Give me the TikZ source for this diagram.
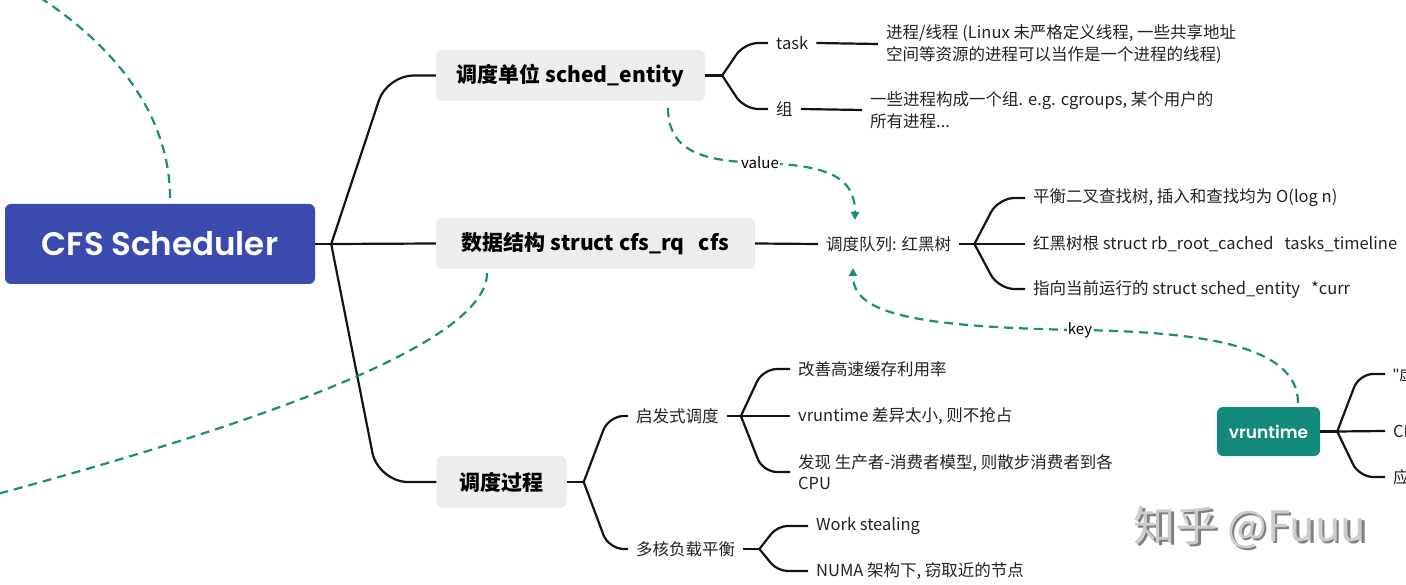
\documentclass[tikz,border=0pt]{standalone}
\usepackage{fontspec}
\setmainfont{Noto Sans CJK SC}
\newfontfamily\popp{Poppins SemiBold}
\newfontfamily\lsans{Liberation Sans}
\usetikzlibrary{arrows.meta,calc}
\definecolor{rootblue}{HTML}{3A4AAE}
\definecolor{tealbox}{HTML}{12897A}
\definecolor{dashc}{HTML}{1C8C7C}
\definecolor{boxgray}{HTML}{EDEDED}
\definecolor{txt}{HTML}{222222}
\newcommand\brc[4]{%
  \path (#1) ++(#3,0) coordinate (tmpc);
  \draw[br,rounded corners=#4] (#1) -- (tmpc |- #2) -- (#2);}
\begin{document}
\begin{tikzpicture}[x=1pt,y=-1pt,
  br/.style={line width=2.2pt,draw=black!92},
  dsh/.style={line width=2.2pt,draw=dashc,dash pattern=on 9pt off 6pt},
  tip/.style={-{Triangle[length=8pt,width=8pt]}},
  rootbox/.style={fill=rootblue,rounded corners=6pt,text=white,font=\popp\fontsize{32.5pt}{36pt}\selectfont},
  vbox/.style={fill=tealbox,rounded corners=6pt,text=white,font=\popp\fontsize{17pt}{20pt}\selectfont},
  graybox/.style={fill=boxgray,rounded corners=6pt,text=black,font=\bfseries\fontsize{21pt}{25pt}\selectfont},
  leaf/.style={anchor=west,inner xsep=8pt,inner ysep=2pt,text=txt,align=left,font=\fontsize{16.5pt}{21.5pt}\selectfont},
  lab/.style={fill=white,inner xsep=1pt,inner ysep=1pt,text=black,font=\fontsize{15pt}{17pt}\selectfont},
  wmark/.style={font=\fontsize{42pt}{46pt}\selectfont}]
\useasboundingbox (0,0) rectangle (1406,585);
\clip (0,0) rectangle (1406,585);

% main nodes
\node[rootbox,minimum width=310pt,minimum height=80pt] (root) at (160,244) {CFS Scheduler};
\node[graybox,minimum width=269pt,minimum height=51pt] (boxA) at (570.5,75.5) {调度单位 sched\_entity};
\node[graybox,minimum width=319pt,minimum height=51pt] (boxB) at (595.5,243.5) {数据结构 struct cfs\_rq\ \ \ cfs};
\node[graybox,minimum width=130pt,minimum height=52pt] (boxC) at (501.5,482) {调度过程};
\node[vbox,minimum width=103pt,minimum height=49pt] (vrt) at (1268.5,431.5) {vruntime};

% leaves
\node[leaf] (task) at (768,43) {task};
\node[leaf] (tasktxt) at (878,44) {进程/线程 (Linux 未严格定义线程, 一些共享地址\\空间等资源的进程可以当作是一个进程的线程)};
\node[leaf] (grp) at (768,109) {组};
\node[leaf] (grptxt) at (862,110) {一些进程构成一个组. e.g. cgroups, 某个用户的\\所有进程...};
\node[leaf] (queue) at (818,244) {调度队列: 红黑树};
\node[leaf] (q1) at (1025,198) {平衡二叉查找树, 插入和查找均为 O(log n)};
\node[leaf] (q2) at (1025,244) {红黑树根 struct rb\_root\_cached\ \ \ tasks\_timeline};
\node[leaf] (q3) at (1025,289) {指向当前运行的 struct sched\_entity\ \ \ *curr};
\node[leaf] (heur) at (628,416) {启发式调度};
\node[leaf] (h1) at (790,369) {改善高速缓存利用率};
\node[leaf] (h2) at (790,416) {vruntime 差异太小, 则不抢占};
\node[leaf] (h3) at (790,472) {发现 生产者-消费者模型, 则散步消费者到各\\CPU};
\node[leaf] (multi) at (628,549) {多核负载平衡};
\node[leaf] (m1) at (808,526) {Work stealing};
\node[leaf] (m2) at (808,571) {NUMA 架构下, 窃取近的节点};
\node[leaf] (v1) at (1385,374) {{\lsans\char"22}虚};
\node[leaf] (v2) at (1385,431) {CPU};
\node[leaf] (v3) at (1385,477) {应};

% forks
\coordinate (fR) at ($(root.east)+(16,0)$);
\coordinate (fA) at ($(boxA.east)+(17,0)$);
\coordinate (fQ) at ($(queue.east)+(15,0)$);
\coordinate (fC) at ($(boxC.east)+(17,0)$);
\coordinate (fH) at ($(heur.east)+(14,0)$);
\coordinate (fM) at ($(multi.east)+(16,0)$);
\coordinate (fV) at ($(vrt.east)+(17,0)$);

% tree connectors
\draw[br] (root.east) -- (fR);
\brc{fR}{boxA.west}{56}{26pt}
\draw[br] (fR) -- (boxB.west);
\brc{fR}{boxC.west}{47}{30pt}

\draw[br] (boxA.east) -- (fA);
\brc{fA}{task.west}{22}{14pt}
\brc{fA}{grp.west}{22}{14pt}
\draw[br] (task.east) -- (tasktxt.west);
\draw[br] (grp.east) -- (grptxt.west);

\draw[br] (boxB.east) -- (queue.west);
\draw[br] (queue.east) -- (fQ);
\brc{fQ}{q1.west}{24}{16pt}
\draw[br] (fQ) -- (q2.west);
\brc{fQ}{q3.west}{24}{16pt}

\draw[br] (boxC.east) -- (fC);
\brc{fC}{heur.west}{25}{15pt}
\brc{fC}{multi.west}{25}{15pt}
\draw[br] (heur.east) -- (fH);
\brc{fH}{h1.west}{22}{14pt}
\draw[br] (fH) -- (h2.west);
\brc{fH}{h3.west}{22}{14pt}
\draw[br] (multi.east) -- (fM);
\brc{fM}{m1.west}{18}{10pt}
\brc{fM}{m2.west}{18}{10pt}

\draw[br] (vrt.east) -- (fV);
\brc{fV}{v1.west}{22}{14pt}
\draw[br] (fV) -- (v2.west);
\brc{fV}{v3.west}{22}{14pt}

% dashed relations
\coordinate (offTL) at (28,-10);
\coordinate (offBL) at (-10,496);
\draw[dsh] ($(root.north)+(10,-6)$) .. controls (170,118) and (118,45) .. (offTL);
\draw[dsh] ($(boxB.south)+(-108.5,4)$) .. controls (487,335) and (310,410) .. (offBL);
\draw[dsh,tip] ($(boxA.south)+(97.5,7)$) .. controls (668,155) and (710,161) .. (760,163)
   .. controls (830,165) and (855,178) .. ($(queue.west)+(37,-24)$);
\node[lab] (vlab) at (760,163) {value};
\draw[dsh,tip] ($(vrt.north)+(29.5,-4)$) .. controls (1298,345) and (1200,332) .. (1080,330)
   .. controls (900,327) and (853,310) .. ($(queue.west)+(35,24)$);
\node[lab] (klab) at (1080,330) {key};

% watermark
\node[wmark,text=black!50] (wmsh) at (1252.5,529.5) {知乎 @Fuuu};
\node[wmark,text=black!20] (wm) at (1250,527) {知乎 @Fuuu};
\end{tikzpicture}
\end{document}
